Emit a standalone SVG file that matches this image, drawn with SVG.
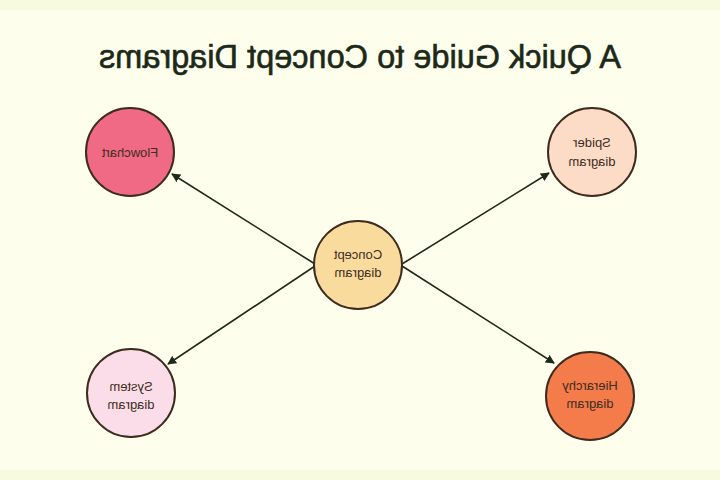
<svg xmlns="http://www.w3.org/2000/svg" width="720" height="480" viewBox="0 0 720 480">
<defs>
<marker id="arr" viewBox="0 0 10 10" refX="9" refY="5" markerWidth="9" markerHeight="9" orient="auto" markerUnits="userSpaceOnUse">
<path d="M0,0 L10,5 L0,10 Z" fill="#1d2a1a"/>
</marker>
</defs>
<style>
.node{stroke:#3d2b1e;stroke-width:2}
.lbl{font-family:"Liberation Sans",Arial,sans-serif;font-size:13px;fill:#3e2e22;text-anchor:middle}
.edge{stroke:#1d2a1a;stroke-width:1.6;fill:none;marker-end:url(#arr)}
.title{font-family:"Liberation Sans",Arial,sans-serif;font-size:32.5px;fill:#1c2818;stroke:#1c2818;stroke-width:0.6;text-anchor:middle}
</style>
<rect width="720" height="480" fill="#fefeec"/>
<rect width="720" height="10" fill="#f7fadf"/>
<rect y="470" width="720" height="10" fill="#f7fadf"/>
<text class="title" x="360" y="68" transform="matrix(-1 0 0 1 720 0)">A Quick Guide to Concept Diagrams</text>
<g id="connectors">
<line class="edge" x1="315" y1="264" x2="172" y2="174"/>
<line class="edge" x1="402" y1="264" x2="549" y2="173"/>
<line class="edge" x1="402" y1="266" x2="554" y2="363"/>
<line class="edge" x1="315" y1="266" x2="168" y2="364"/>
</g>
<g id="concept">
<circle class="node" cx="358" cy="265" r="44" fill="#fadb9e"/>
<text class="lbl" x="358" y="259" transform="matrix(-1 0 0 1 716 0)">Concept</text>
<text class="lbl" x="358" y="277" transform="matrix(-1 0 0 1 716 0)">diagram</text>
</g>
<g id="flowchart">
<circle class="node" cx="130" cy="152" r="44" fill="#f06a85"/>
<text class="lbl" x="130" y="157" transform="matrix(-1 0 0 1 260 0)">Flowchart</text>
</g>
<g id="spider">
<circle class="node" cx="592" cy="152" r="44" fill="#fcdcc6"/>
<text class="lbl" x="592" y="147" transform="matrix(-1 0 0 1 1184 0)">Spider</text>
<text class="lbl" x="592" y="166" transform="matrix(-1 0 0 1 1184 0)">diagram</text>
</g>
<g id="hierarchy">
<circle class="node" cx="590" cy="396" r="44" fill="#f47b4a"/>
<text class="lbl" x="590" y="390" transform="matrix(-1 0 0 1 1180 0)">Hierarchy</text>
<text class="lbl" x="590" y="408" transform="matrix(-1 0 0 1 1180 0)">diagram</text>
</g>
<g id="system">
<circle class="node" cx="131" cy="393" r="44" fill="#fadde8"/>
<text class="lbl" x="131" y="391" transform="matrix(-1 0 0 1 262 0)">System</text>
<text class="lbl" x="131" y="409" transform="matrix(-1 0 0 1 262 0)">diagram</text>
</g>
</svg>
